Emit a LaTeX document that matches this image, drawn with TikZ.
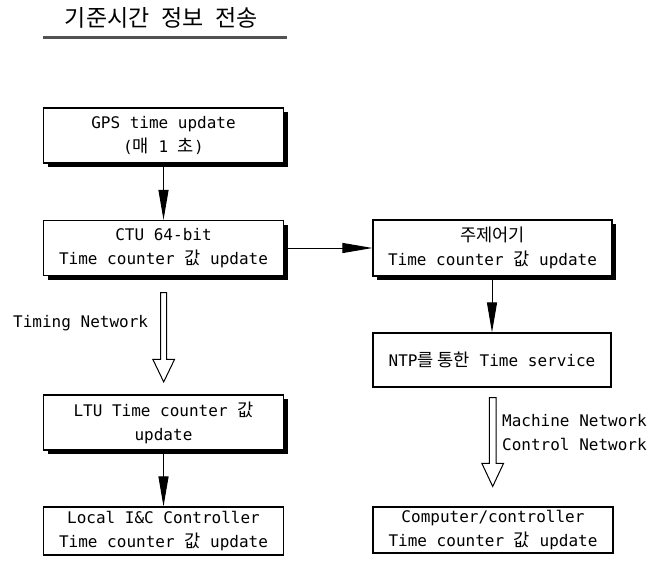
\documentclass[tikz,border=0pt]{standalone}
\usepackage{fontspec}
\setmainfont{DejaVu Sans Mono}
\newfontfamily\kr{Noto Sans CJK KR}[Scale=1.1]
\newfontfamily\krtitle{Noto Sans CJK KR}
\usetikzlibrary{arrows.meta,shadows,calc}

\tikzset{
  txt/.style={font=\fontsize{16}{24}\selectfont, align=center, inner sep=0pt},
  box/.style={txt, draw=black, line width=1.1pt, fill=white,
    minimum width=240pt, minimum height=55pt},
  sbox/.style={box, general shadow={fill=black, shadow xshift=4pt, shadow yshift=-4pt}},
  arr/.style={draw=black, line width=1pt, -{Triangle[length=30pt,width=10pt]}},
  hollow/.style={draw=black, line width=1pt, fill=white, line join=miter},
}

\begin{document}
\begin{tikzpicture}[x=1pt, y=-1pt]
  \useasboundingbox (0,0) rectangle (651,565);

  % heading with rule
  \node[inner sep=0pt] (title) at (161.5,18)
    {\krtitle\fontsize{23}{23}\selectfont\spaceskip=12pt 기준시간 정보 전송};
  \coordinate (ruleL) at (43,37.5);
  \coordinate (ruleR) at (287,37.5);
  \draw[line width=2.5pt, draw=black!68] (ruleL) -- (ruleR);

  % left column
  \node[sbox] (gps) at (163.5,135.5) {GPS time update\\({\kr 매} 1 {\kr 초})};
  \node[sbox] (ctu) at (163.5,248) {CTU 64-bit\\Time counter {\kr 값} update};
  \node[sbox] (ltu) at (163.5,422.5) {LTU Time counter {\kr 값}\\update};
  \node[box, minimum height=48pt] (local) at (163.5,531)
    {Local I\&C Controller\\Time counter {\kr 값} update};

  % right column
  \node[sbox, minimum width=239pt, minimum height=56pt] (main) at (492.5,248)
    {{\kr 주제어기}\\Time counter {\kr 값} update};
  \node[box, minimum width=238pt, minimum height=54pt] (ntp) at (492,360)
    {NTP{\kr 를 통한} Time service};
  \node[box, minimum height=46pt] (comp) at (493,530)
    {Computer/controller\\Time counter {\kr 값} update};

  % solid connectors
  \draw[arr] (gps.south) -- (ctu.north);
  \draw[arr] (ctu.east) -- (main.west);
  \draw[arr] (main.south -| ntp.north) -- (ntp.north);
  \draw[arr] (ltu.south) -- (local.north);

  % hollow network arrows
  \coordinate (tnTop) at ($(ctu.south)+(0.2,16.5)$);
  \coordinate (tnTip) at ($(ltu.north)+(0.2,-12.5)$);
  \draw[hollow] ($(tnTop)+(-3,0)$) -- ($(tnTip)+(-3,-22.5)$) -- ($(tnTip)+(-10.8,-22.5)$)
    -- (tnTip) -- ($(tnTip)+(10.8,-22.5)$) -- ($(tnTip)+(3,-22.5)$) -- ($(tnTop)+(3,0)$) -- cycle;
  \node[txt, anchor=west] (tnLabel) at (13,323) {Timing Network};

  \coordinate (mnTop) at ($(ntp.south)+(0.7,10)$);
  \coordinate (mnTip) at ($(comp.north)+(-0.3,-20)$);
  \draw[hollow] ($(mnTop)+(-3.3,0)$) -- ($(mnTip)+(-3.3,-23)$) -- ($(mnTip)+(-10.8,-23)$)
    -- (mnTip) -- ($(mnTip)+(10.8,-23)$) -- ($(mnTip)+(3.3,-23)$) -- ($(mnTop)+(3.3,0)$) -- cycle;
  \node[txt, anchor=west, align=left] (mnLabel) at (502,433)
    {Machine Network\\Control Network};
\end{tikzpicture}
\end{document}
